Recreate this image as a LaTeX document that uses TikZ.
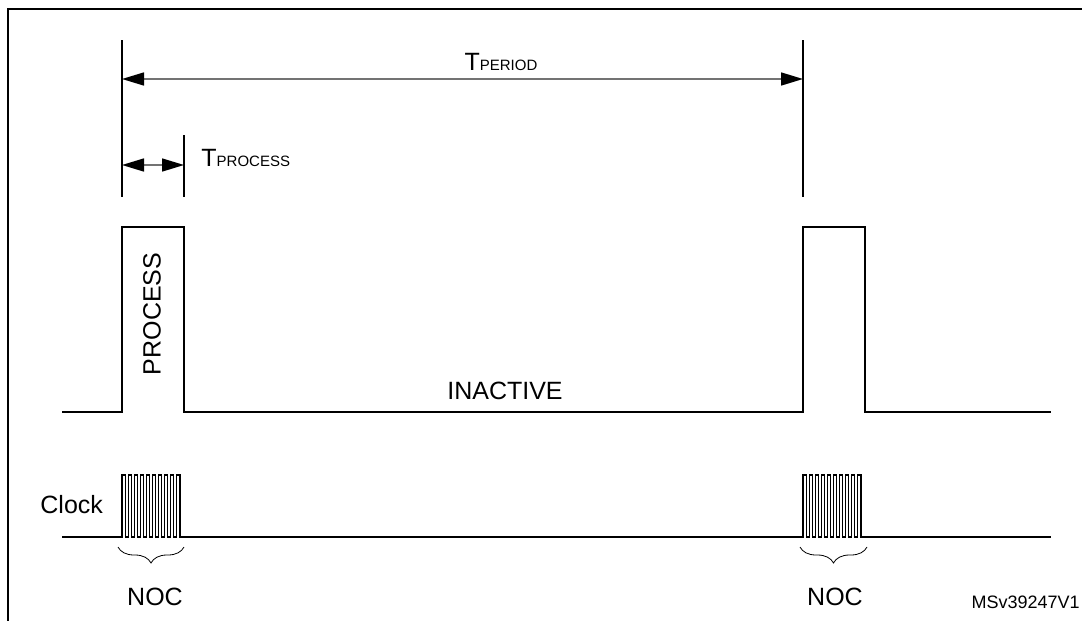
\documentclass[tikz,border=0pt]{standalone}
\usepackage{fontspec}
\setmainfont{Liberation Sans}
\usetikzlibrary{arrows.meta,decorations.pathreplacing}
\tikzset{
  dimline/.style={draw=black!55, line width=0.8pt,
    {Triangle[length=11pt,width=6.5pt,color=black]}-{Triangle[length=11pt,width=6.5pt,color=black]}},
  wave/.style={line width=0.55pt},
  lbl/.style={font=\fontsize{12.5}{15}\selectfont, inner sep=0pt},
}
\newcommand{\subcaps}[1]{{\fontsize{7.5}{9}\selectfont #1}}
\begin{document}
\begin{tikzpicture}[x=0.5pt,y=-0.5pt]
\useasboundingbox (0,0) rectangle (1082,621);
% frame
\draw[line width=1pt] (1082,9) -- (8,9) -- (8,621);
% markers
\draw[wave] (122,40) -- (122,197);
\draw[wave] (184,135) -- (184,197);
\draw[wave] (803,40) -- (803,197);
\coordinate (perL) at (122,79);
\coordinate (perR) at (803,79);
\coordinate (procL) at (122,165);
\coordinate (procR) at (184,165);
\draw[dimline] (perL) -- (perR);
\draw[dimline] (procL) -- (procR);
\node[lbl] (tper) at (501,62) {T\subcaps{PERIOD}};
\node[lbl, anchor=base west] (tproc) at (201,166) {T\subcaps{PROCESS}};
% activity
\draw[wave] (62,412) -- (122,412) -- (122,227) -- (184,227) -- (184,412)
  -- (803,412) -- (803,227) -- (865,227) -- (865,412) -- (1051,412);
\node[lbl, rotate=90] (proc) at (152,314) {PROCESS};
\node[lbl] (inact) at (505,391) {INACTIVE};
% clock
\draw[wave] (62,537) -- (122,537)
  \foreach \i in {1,...,10} { -- ++(0,-62) -- ++(3.1,0) -- ++(0,62) -- ++(3,0) }
  -- (803,537)
  \foreach \i in {1,...,10} { -- ++(0,-62) -- ++(3.1,0) -- ++(0,62) -- ++(3,0) }
  -- (1051,537);
\node[lbl, anchor=base west] (clk) at (40,513) {Clock};
% NOC braces
\coordinate (b1L) at (118,547);
\coordinate (b1R) at (184,547);
\coordinate (b2L) at (800,547);
\coordinate (b2R) at (867,547);
\draw[line width=0.4pt, decorate, decoration={brace, mirror, amplitude=8pt}] (b1L) -- (b1R);
\draw[line width=0.4pt, decorate, decoration={brace, mirror, amplitude=8pt}] (b2L) -- (b2R);
\node[lbl] (noc1) at (155,597) {NOC};
\node[lbl] (noc2) at (835,597) {NOC};
\node[font=\fontsize{9}{11}\selectfont, inner sep=0pt, anchor=base east] (ref) at (1080,608) {MSv39247V1};
\end{tikzpicture}
\end{document}
